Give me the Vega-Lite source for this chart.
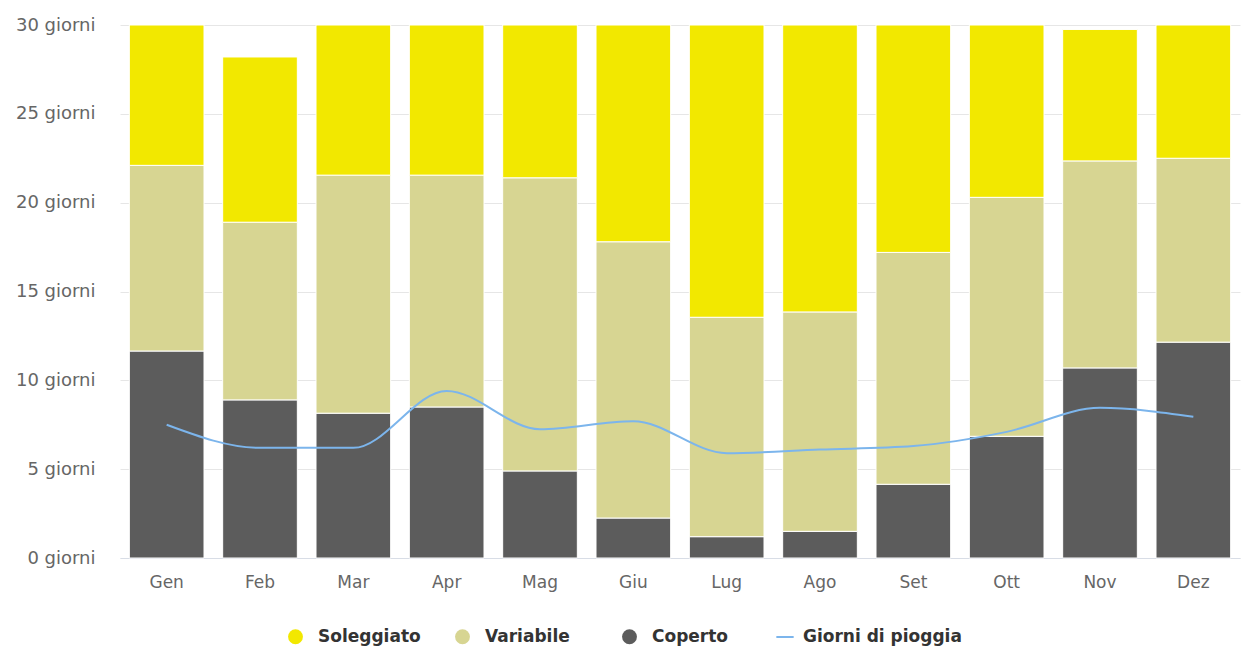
{
  "$schema": "https://vega.github.io/schema/vega-lite/v6.json",
  "width": 1120,
  "height": 533,
  "autosize": "none",
  "padding": {"left": 120, "top": 25, "right": 5, "bottom": 90},
  "background": "white",
  "config": {"view": {"stroke": null}, "font": "DejaVu Sans"},
  "datasets": {
    "meteo": [
      {"mese": "Gen", "serie": "Coperto", "giorni": 11.65, "k": 1},
      {"mese": "Gen", "serie": "Variabile", "giorni": 10.45, "k": 2},
      {"mese": "Gen", "serie": "Soleggiato", "giorni": 7.9, "k": 3},
      {"mese": "Feb", "serie": "Coperto", "giorni": 8.9, "k": 1},
      {"mese": "Feb", "serie": "Variabile", "giorni": 10.0, "k": 2},
      {"mese": "Feb", "serie": "Soleggiato", "giorni": 9.3, "k": 3},
      {"mese": "Mar", "serie": "Coperto", "giorni": 8.15, "k": 1},
      {"mese": "Mar", "serie": "Variabile", "giorni": 13.4, "k": 2},
      {"mese": "Mar", "serie": "Soleggiato", "giorni": 8.45, "k": 3},
      {"mese": "Apr", "serie": "Coperto", "giorni": 8.5, "k": 1},
      {"mese": "Apr", "serie": "Variabile", "giorni": 13.05, "k": 2},
      {"mese": "Apr", "serie": "Soleggiato", "giorni": 8.45, "k": 3},
      {"mese": "Mag", "serie": "Coperto", "giorni": 4.9, "k": 1},
      {"mese": "Mag", "serie": "Variabile", "giorni": 16.5, "k": 2},
      {"mese": "Mag", "serie": "Soleggiato", "giorni": 8.6, "k": 3},
      {"mese": "Giu", "serie": "Coperto", "giorni": 2.25, "k": 1},
      {"mese": "Giu", "serie": "Variabile", "giorni": 15.55, "k": 2},
      {"mese": "Giu", "serie": "Soleggiato", "giorni": 12.2, "k": 3},
      {"mese": "Lug", "serie": "Coperto", "giorni": 1.2, "k": 1},
      {"mese": "Lug", "serie": "Variabile", "giorni": 12.35, "k": 2},
      {"mese": "Lug", "serie": "Soleggiato", "giorni": 16.45, "k": 3},
      {"mese": "Ago", "serie": "Coperto", "giorni": 1.5, "k": 1},
      {"mese": "Ago", "serie": "Variabile", "giorni": 12.35, "k": 2},
      {"mese": "Ago", "serie": "Soleggiato", "giorni": 16.15, "k": 3},
      {"mese": "Set", "serie": "Coperto", "giorni": 4.15, "k": 1},
      {"mese": "Set", "serie": "Variabile", "giorni": 13.05, "k": 2},
      {"mese": "Set", "serie": "Soleggiato", "giorni": 12.8, "k": 3},
      {"mese": "Ott", "serie": "Coperto", "giorni": 6.85, "k": 1},
      {"mese": "Ott", "serie": "Variabile", "giorni": 13.45, "k": 2},
      {"mese": "Ott", "serie": "Soleggiato", "giorni": 9.7, "k": 3},
      {"mese": "Nov", "serie": "Coperto", "giorni": 10.7, "k": 1},
      {"mese": "Nov", "serie": "Variabile", "giorni": 11.65, "k": 2},
      {"mese": "Nov", "serie": "Soleggiato", "giorni": 7.4, "k": 3},
      {"mese": "Dez", "serie": "Coperto", "giorni": 12.15, "k": 1},
      {"mese": "Dez", "serie": "Variabile", "giorni": 10.35, "k": 2},
      {"mese": "Dez", "serie": "Soleggiato", "giorni": 7.5, "k": 3}
    ],
    "pioggia": [
      {"mese": "Gen", "giorni": 7.5},
      {"mese": "Feb", "giorni": 6.2},
      {"mese": "Mar", "giorni": 6.2},
      {"mese": "Apr", "giorni": 9.4},
      {"mese": "Mag", "giorni": 7.25},
      {"mese": "Giu", "giorni": 7.7},
      {"mese": "Lug", "giorni": 5.9},
      {"mese": "Ago", "giorni": 6.1},
      {"mese": "Set", "giorni": 6.3},
      {"mese": "Ott", "giorni": 7.1},
      {"mese": "Nov", "giorni": 8.45},
      {"mese": "Dez", "giorni": 7.95}
    ]
  },
  "layer": [
    {
      "data": {"name": "meteo"},
      "mark": {"type": "bar", "stroke": "white", "strokeWidth": 1},
      "encoding": {
        "x": {
          "field": "mese", "type": "nominal",
          "sort": ["Gen","Feb","Mar","Apr","Mag","Giu","Lug","Ago","Set","Ott","Nov","Dez"],
          "scale": {"paddingInner": 0.2, "paddingOuter": 0.1},
          "axis": {"title": null, "labelAngle": 0, "ticks": false, "grid": false, "domainColor": "#d8dde6", "labelColor": "#666666", "labelFontSize": 17, "labelPadding": 16}
        },
        "y": {
          "field": "giorni", "type": "quantitative", "stack": "zero",
          "scale": {"domain": [0, 30], "nice": false},
          "axis": {"title": null, "values": [0, 5, 10, 15, 20, 25, 30], "labelExpr": "datum.value + ' giorni'", "domain": false, "ticks": false, "gridColor": "#e6e6e6", "labelColor": "#666666", "labelFontSize": 18, "labelPadding": 25}
        },
        "color": {
          "field": "serie", "type": "nominal",
          "scale": {"domain": ["Soleggiato", "Variabile", "Coperto"], "range": ["#f2e800", "#d7d592", "#5c5c5c"]},
          "legend": {"title": null, "orient": "none", "direction": "horizontal", "legendX": 167, "legendY": 603, "symbolType": "circle", "symbolSize": 220, "symbolStrokeWidth": 0, "labelFontSize": 17, "labelFontWeight": "bold", "labelColor": "#333333", "columnPadding": 33, "labelOffset": 14, "gridAlign": "all"}
        },
        "order": {"field": "k", "type": "quantitative"}
      }
    },
    {
      "data": {"name": "pioggia"},
      "mark": {"type": "line", "interpolate": "monotone", "strokeWidth": 2},
      "encoding": {
        "x": {"field": "mese", "type": "nominal", "sort": ["Gen","Feb","Mar","Apr","Mag","Giu","Lug","Ago","Set","Ott","Nov","Dez"]},
        "y": {"field": "giorni", "type": "quantitative"},
        "stroke": {
          "datum": "Giorni di pioggia",
          "scale": {"range": ["#7cb5ec"]},
          "legend": {"title": null, "orient": "none", "legendX": 655, "legendY": 602, "symbolType": "stroke", "symbolSize": 300, "symbolStrokeWidth": 2, "labelFontSize": 17, "labelFontWeight": "bold", "labelColor": "#333333", "labelOffset": 8}
        }
      }
    }
  ]
}
